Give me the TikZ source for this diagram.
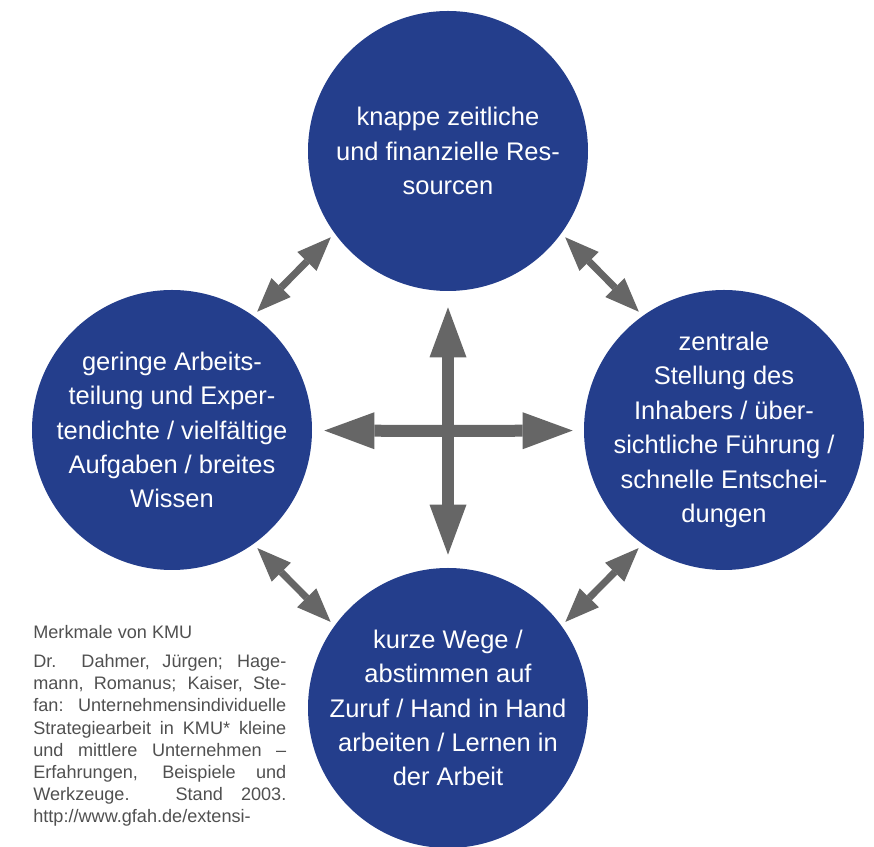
\documentclass[tikz,border=0pt]{standalone}
\usepackage{fontspec}
\setmainfont{Liberation Sans}
\usepackage{xcolor}
\usepackage{tikz}
\usetikzlibrary{positioning, arrows.meta}
\definecolor{kmublue}{HTML}{243E8C}
\definecolor{arrowgray}{HTML}{666666}
\definecolor{captiongray}{HTML}{505050}
\tikzstyle{factor} = [circle, minimum size=5.6cm, inner sep=-0.6cm, fill=kmublue, text=white, align=center, font=\fontsize{14.5}{19.6}\selectfont]
\tikzstyle{link} = [draw=arrowgray, line width=0.14cm, shorten <=0.07cm, shorten >=0.07cm, {Triangle[length=0.68cm,width=0.54cm,line width=0pt]}-{Triangle[length=0.68cm,width=0.54cm,line width=0pt]}]
\tikzstyle{cross} = [draw=arrowgray, line width=0.24cm, -{Triangle[length=1cm,width=0.74cm,line width=0pt]}]
\tikzstyle{caption} = [anchor=north west, inner sep=0pt, text width=5.06cm, align=justify, text=captiongray, font=\fontsize{10.3}{12.65}\selectfont]

\begin{document}
\begin{tikzpicture}
		\useasboundingbox (0,0) rectangle (17.48,16.94);
		\node (top) [factor] at (8.96,13.92) {knappe zeitliche\\und finanzielle Res-\\sourcen};
		\node (left) [factor, on grid, below left=5.58cm and 5.52cm of top] {geringe Arbeits-\\teilung und Exper-\\tendichte / vielfältige\\Aufgaben / breites\\Wissen};
		\node (right) [factor, on grid, below right=5.58cm and 5.52cm of top] {zentrale\\Stellung des\\Inhabers / über-\\sichtliche Führung /\\schnelle Entschei-\\dungen};
		\node (bottom) [factor, on grid, below=11.14cm of top] {kurze Wege /\\abstimmen auf\\Zuruf / Hand in Hand\\arbeiten / Lernen in\\der Arbeit};
		\coordinate (hub) at (8.96,8.32);
		% links between neighbours, set off outwards
		\draw[link, transform canvas={shift={(-0.32,0.32)}}] (top) -- (left);
		\draw[link, transform canvas={shift={(0.32,0.32)}}] (top) -- (right);
		\draw[link, transform canvas={shift={(-0.32,-0.32)}}] (left) -- (bottom);
		\draw[link, transform canvas={shift={(0.32,-0.32)}}] (right) -- (bottom);
		% central cross
		\draw[cross, shorten >=0.32cm] (hub) -- (top);
		\draw[cross, shorten >=0.24cm] (hub) -- (left);
		\draw[cross, shorten >=0.22cm] (hub) -- (right);
		\draw[cross, shorten >=0.26cm] (hub) -- (bottom);
		\node (source) [caption] at (0.66,4.44) {\hyphenpenalty=10000 Merkmale von KMU\par\vspace{0.134cm}
			Dr. Dahmer, Jürgen; Hage-\linebreak mann, Romanus; Kaiser, Ste-\linebreak fan: Unternehmensindividuelle\linebreak Strategiearbeit in KMU* kleine\linebreak und mittlere Unternehmen –\linebreak Erfahrungen, Beispiele und\linebreak Werkzeuge. Stand 2003.\linebreak http://www.gfah.de/extensi-};
	\end{tikzpicture}
\end{document}
